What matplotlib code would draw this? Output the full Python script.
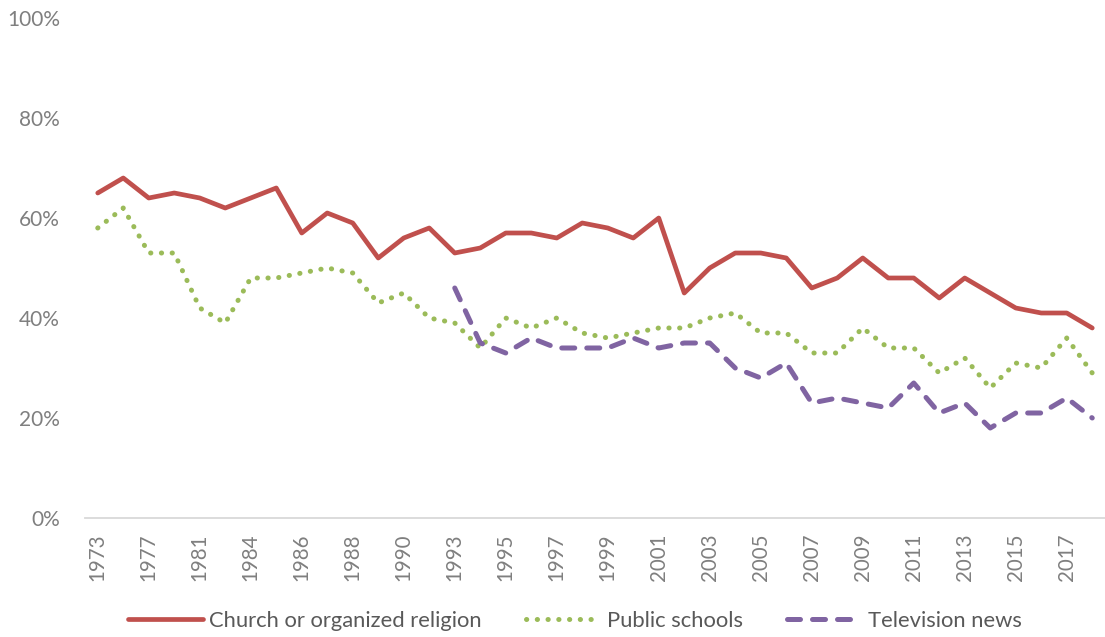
import matplotlib
matplotlib.use("Agg")
import matplotlib.pyplot as plt
from matplotlib.ticker import PercentFormatter

years = ["1973", "1975", "1977", "1979", "1981", "1983", "1984", "1985", "1986", "1987",
         "1988", "1989", "1990", "1991", "1993", "1994", "1995", "1996", "1997", "1998",
         "1999", "2000", "2001", "2002", "2003", "2004", "2005", "2006", "2007", "2008",
         "2009", "2010", "2011", "2012", "2013", "2014", "2015", "2016", "2017", "2018"]

church = [65, 68, 64, 65, 64, 62, 64, 66, 57, 61,
          59, 52, 56, 58, 53, 54, 57, 57, 56, 59,
          58, 56, 60, 45, 50, 53, 53, 52, 46, 48,
          52, 48, 48, 44, 48, 45, 42, 41, 41, 38]

schools = [58, 62, 53, 53, 42, 39, 48, 48, 49, 50,
           49, 43, 45, 40, 39, 34, 40, 38, 40, 37,
           36, 37, 38, 38, 40, 41, 37, 37, 33, 33,
           38, 34, 34, 29, 32, 26, 31, 30, 36, 29]

tv_years = years[14:]
tv_news = [46, 35, 33, 36, 34, 34, 34, 36, 34, 35,
           35, 30, 28, 31, 23, 24, 23, 22, 27, 21,
           23, 18, 21, 21, 24, 20]

series_names = ["Church or organized religion", "Public schools", "Television news"]

plt.rcParams['font.family'] = ['Lato', 'DejaVu Sans']

W, H = 1105, 637
fig = plt.figure(figsize=(W / 100, H / 100), dpi=100)
ax = fig.add_axes([85 / W, (H - 518) / H, 1020 / W, 500 / H])

x_all = list(range(len(years)))
x_tv = [years.index(y) for y in tv_years]

ax.plot(x_all, church, color="#C0504D", lw=3.4, solid_capstyle="round",
        solid_joinstyle="round", label=series_names[0])
ax.plot(x_all, schools, color="#9BBB59", lw=3.6, linestyle=(0, (0.05, 2.1)),
        dash_capstyle="round", label=series_names[1])
ax.plot(x_tv, tv_news, color="#8064A2", lw=3.6, linestyle=(0, (2.6, 2.4)),
        dash_capstyle="round", dash_joinstyle="round", label=series_names[2])

ax.set_xlim(-0.5, len(years) - 0.5)
ax.set_ylim(0, 100)
ax.set_yticks([0, 20, 40, 60, 80, 100])
ax.yaxis.set_major_formatter(PercentFormatter(decimals=0))
ax.set_xticks(x_all[::2])
ax.set_xticklabels(years[::2], rotation=90)

for s in ["top", "right", "left"]:
    ax.spines[s].set_visible(False)
ax.spines["bottom"].set_color("#D9D9D9")
ax.spines["bottom"].set_linewidth(1.3)

ax.tick_params(axis="y", length=0, pad=18, labelsize=15, labelcolor="#7F7F7F")
ax.tick_params(axis="x", length=0, pad=11, labelsize=14.8, labelcolor="#7F7F7F")

leg = fig.legend(loc="center", bbox_to_anchor=(575 / W, 1 - 621 / H), ncol=3,
                 frameon=False, fontsize=15.8, handlelength=3.4, columnspacing=2.0,
                 handletextpad=0.3, labelcolor="#595959")

fig.savefig("out.png", dpi=100)
